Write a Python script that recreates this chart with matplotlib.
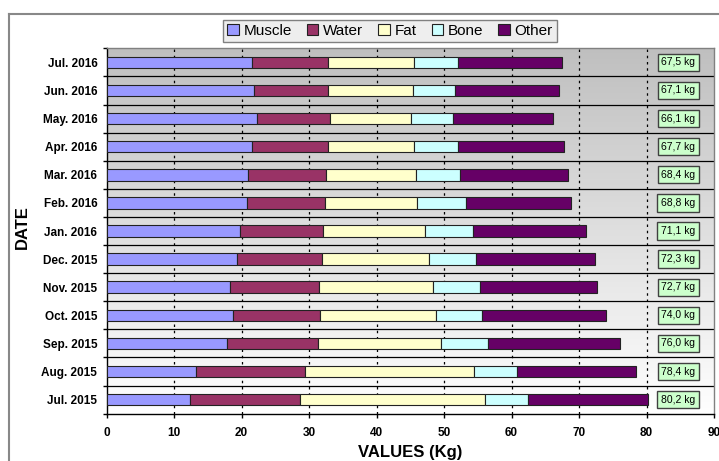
import matplotlib
matplotlib.use("Agg")
import matplotlib.pyplot as plt
import numpy as np
from matplotlib.patches import Patch
from matplotlib.lines import Line2D

plt.rcParams['font.family'] = ['Liberation Sans', 'DejaVu Sans']

# Data (bottom to top)
dates = ["Jul. 2015", "Aug. 2015", "Sep. 2015", "Oct. 2015", "Nov. 2015", "Dec. 2015",
         "Jan. 2016", "Feb. 2016", "Mar. 2016", "Apr. 2016", "May. 2016", "Jun. 2016", "Jul. 2016"]
muscle = [12.3, 13.2, 17.8, 18.7, 18.3, 19.3, 19.8, 20.8, 21.0, 21.5, 22.2, 21.8, 21.6]
water  = [16.4, 16.2, 13.5, 12.9, 13.2, 12.6, 12.2, 11.6, 11.5, 11.3, 10.9, 11.0, 11.2]
fat    = [27.3, 25.0, 18.2, 17.2, 16.9, 15.9, 15.1, 13.6, 13.3, 12.7, 12.0, 12.6, 12.8]
bone   = [6.5, 6.4, 7.0, 6.8, 6.9, 6.9, 7.2, 7.2, 6.5, 6.5, 6.2, 6.2, 6.4]
other  = [17.7, 17.6, 19.5, 18.4, 17.4, 17.6, 16.8, 15.6, 16.1, 15.7, 14.8, 15.5, 15.5]
total_labels = ["80,2 kg", "78,4 kg", "76,0 kg", "74,0 kg", "72,7 kg", "72,3 kg", "71,1 kg",
                "68,8 kg", "68,4 kg", "67,7 kg", "66,1 kg", "67,1 kg", "67,5 kg"]
series_names = ["Muscle", "Water", "Fat", "Bone", "Other"]
series = [muscle, water, fat, bone, other]
colors = ["#9999ff", "#993366", "#ffffcc", "#ccffff", "#660066"]
x_ticks = [0, 10, 20, 30, 40, 50, 60, 70, 80, 90]

W, H = 719, 461
fig = plt.figure(figsize=(W / 100, H / 100), dpi=100)
fig.patch.set_facecolor("white")

ax = fig.add_axes([106.7 / W, 1 - 413.7 / H, (714 - 106.7) / W, (413.7 - 48.3) / H])

n = len(dates)
y = np.arange(n)

# gradient background
grad = np.linspace(0.75, 1.0, 256).reshape(-1, 1)
rgb = np.dstack([grad, grad, grad])
ax.imshow(rgb, extent=[0, 90, -0.5, n - 0.5], aspect='auto', origin='upper', zorder=0)

for xv in x_ticks[1:-1]:
    ax.axvline(xv, color='black', lw=0.9, ls=(0, (2, 3)), zorder=1)
for k in range(1, n):
    ax.axhline(k - 0.5, color='black', lw=0.9, zorder=1)

left = np.zeros(n)
for vals, c in zip(series, colors):
    ax.barh(y, vals, left=left, height=0.41, color=c, edgecolor='#222222', lw=0.8, zorder=3)
    left = left + np.array(vals)

for i, lab in enumerate(total_labels):
    ax.text(84.7, i, lab, ha='center', va='center', fontsize=7.5, zorder=4,
            bbox=dict(boxstyle='square,pad=0.35', fc='#ccffcc', ec='#404040', lw=1))

ax.set_xlim(0, 90)
ax.set_ylim(-0.5, n - 0.5)
ax.set_xticks(x_ticks)
ax.set_xticklabels([str(v) for v in x_ticks], fontweight='bold', fontsize=8.5)
ax.tick_params(axis='x', direction='out', length=3, width=1, pad=6.5)

ax.set_yticks(np.arange(-0.5, n, 1.0))
ax.set_yticklabels([])
ax.tick_params(axis='y', which='major', direction='out', length=3, width=1)
ax.set_yticks(y, minor=True)
ax.set_yticklabels(dates, minor=True, fontweight='bold', fontsize=8.5)
ax.tick_params(axis='y', which='minor', length=0, pad=6.8)

for s in ['left', 'bottom']:
    ax.spines[s].set_color('black')
    ax.spines[s].set_linewidth(1)
for s in ['top', 'right']:
    ax.spines[s].set_color('#808080')
    ax.spines[s].set_linewidth(1)

fig.text(410 / W, 1 - 452 / H, "VALUES (Kg)", ha='center', va='center', fontsize=12, fontweight='bold')
fig.text(22.5 / W, 1 - 227 / H, "DATE", ha='center', va='center', rotation=90, fontsize=12, fontweight='bold')

handles = [Patch(facecolor=c, edgecolor='#222222', lw=0.8) for c in colors]
leg = fig.legend(handles, series_names, loc='center', bbox_to_anchor=(390 / W, 1 - 31 / H),
                 ncol=5, fontsize=11, frameon=True, fancybox=False, edgecolor='#808080',
                 facecolor='#eeeeee', framealpha=1, handlelength=0.75, handleheight=0.75,
                 handletextpad=0.3, columnspacing=1.0, borderpad=0.25)
leg.get_frame().set_linewidth(1)

fig.add_artist(Line2D([9 / W, 9 / W], [0, 1 - 14 / H], color='#888888', lw=1.5, transform=fig.transFigure))
fig.add_artist(Line2D([9 / W, 1], [1 - 14 / H, 1 - 14 / H], color='#888888', lw=1.5, transform=fig.transFigure))

fig.savefig("out.png", dpi=100)
